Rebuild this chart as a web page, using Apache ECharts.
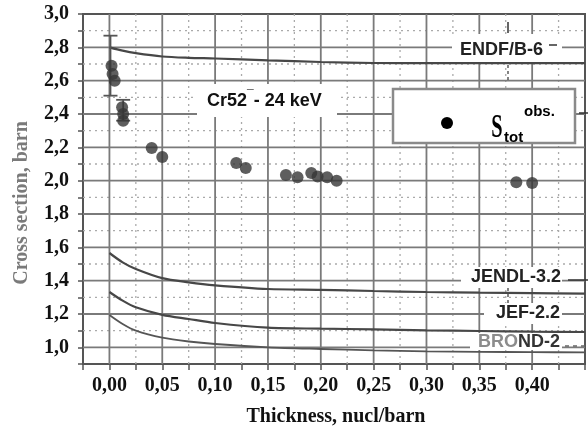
<!DOCTYPE html>
<html><head><meta charset="utf-8">
<script src="https://cdn.jsdelivr.net/npm/echarts@6/dist/echarts.min.js"></script>
<style>html,body{margin:0;padding:0;background:#fff}#c{width:588px;height:432px}</style>
</head><body><div id="c"></div>
<script>
// thickness samples for the evaluated-data curves (nucl/barn)
const curveX   = [0, 0.0125, 0.025, 0.05, 0.075, 0.1, 0.15, 0.2, 0.25, 0.3, 0.35, 0.4, 0.45];
const endfB6   = [2.80, 2.78, 2.765, 2.745, 2.737, 2.733, 2.722, 2.712, 2.706, 2.705, 2.705, 2.705, 2.705];
const jendl32  = [1.566, 1.51, 1.47, 1.415, 1.39, 1.372, 1.35, 1.345, 1.338, 1.332, 1.328, 1.325, 1.322];
const jef22    = [1.332, 1.28, 1.24, 1.195, 1.17, 1.146, 1.118, 1.112, 1.108, 1.102, 1.098, 1.094, 1.092];
const brond2   = [1.194, 1.14, 1.10, 1.058, 1.035, 1.02, 1.0, 0.99, 0.982, 0.976, 0.973, 0.971, 0.97];
// measured total cross sections
const obsX = [0.002, 0.003, 0.005, 0.012, 0.013, 0.013, 0.040, 0.050, 0.120, 0.129, 0.167, 0.178, 0.191, 0.197, 0.206, 0.215, 0.385, 0.400];
const obsY = [2.69, 2.64, 2.60, 2.44, 2.40, 2.36, 2.196, 2.142, 2.106, 2.076, 2.034, 2.02, 2.046, 2.025, 2.02, 2.0, 1.99, 1.986];
// error bars
const errX = [0.001, 0.013];
const errLow = [2.51, 2.36];
const errHigh = [2.87, 2.485];
// tick labels / major grid positions
const xTickValues = [0, 0.05, 0.10, 0.15, 0.20, 0.25, 0.30, 0.35, 0.40];
const xTickLabels = ['0,00','0,05','0,10','0,15','0,20','0,25','0,30','0,35','0,40'];
const yTickValues = [1.0, 1.2, 1.4, 1.6, 1.8, 2.0, 2.2, 2.4, 2.6, 2.8];
const yTickLabels = ['1,0','1,2','1,4','1,6','1,8','2,0','2,2','2,4','2,6','2,8'];
const yTopLabel = '3,0';
// minor (dotted) grid positions
const xMinorValues = [0.025, 0.075, 0.125, 0.175, 0.225, 0.275, 0.325, 0.375, 0.425];
const yMinorValues = [1.1, 1.3, 1.5, 1.7, 1.9, 2.1, 2.3, 2.5, 2.7, 2.9];
const X_MIN = -0.025, X_MAX = 0.45, Y_MIN = 0.9, Y_MAX = 3.0;

function lookup(vals, labels, v) {
  for (let i = 0; i < vals.length; i++) if (Math.abs(vals[i] - v) < 1e-6) return labels[i];
  return '';
}
const zip = (xs, ys) => xs.map((x, i) => [x, ys[i]]);

const serif = '"Liberation Serif", "Times New Roman", serif';
const sans = '"Liberation Sans", Arial, sans-serif';
const lineCol = '#474747';

const gridLine = (data, major) => ({type: 'line', data, showSymbol: false, silent: true, z: major ? 2 : 1,
  lineStyle: major ? {color: '#7a7a7a', width: 1.8, type: 'solid'} : {color: '#aaaaaa', width: 1.3, type: [2, 4]},
  emphasis: {disabled: true}});
const gridSeries = []
  .concat(xMinorValues.map(v => gridLine([[v, Y_MIN], [v, Y_MAX]], false)))
  .concat(yMinorValues.map(v => gridLine([[X_MIN, v], [X_MAX, v]], false)))
  .concat(xTickValues.map(v => gridLine([[v, Y_MIN], [v, Y_MAX]], true)))
  .concat(yTickValues.map(v => gridLine([[X_MIN, v], [X_MAX, v]], true)));

const chart = echarts.init(document.getElementById('c'), null, {renderer: 'canvas'});

const option = {
  animation: false,
  backgroundColor: '#fff',
  grid: {left: 83, top: 14, width: 539, height: 350, show: true, borderColor: '#555', borderWidth: 2, backgroundColor: 'transparent'},
  xAxis: {
    type: 'value', min: X_MIN, max: X_MAX, interval: 0.025,
    axisLine: {show: true, onZero: false, lineStyle: {color: '#555', width: 2}},
    axisTick: {show: true, length: 6, lineStyle: {color: '#555', width: 1.5}},
    axisLabel: {margin: 12, color: '#111', fontFamily: serif, fontWeight: 'bold', fontSize: 20,
      formatter: v => lookup(xTickValues, xTickLabels, v)},
    splitLine: {show: false}
  },
  yAxis: {
    type: 'value', min: Y_MIN, max: Y_MAX, interval: 0.1,
    axisLine: {show: true, onZero: false, lineStyle: {color: '#555', width: 2}},
    axisTick: {show: true, length: 5, lineStyle: {color: '#555', width: 1.5}},
    axisLabel: {margin: 14, color: '#111', fontFamily: serif, fontWeight: 'bold', fontSize: 20,
      formatter: v => Math.abs(v - Y_MAX) < 1e-6 ? yTopLabel : lookup(yTickValues, yTickLabels, v)},
    splitLine: {show: false}
  },
  series: gridSeries.concat([
    {name: 'ENDF/B-6', type: 'line', data: zip(curveX, endfB6), smooth: 0.3, showSymbol: false,
      lineStyle: {color: lineCol, width: 2.2}, z: 3},
    {name: 'JENDL-3.2', type: 'line', data: zip(curveX, jendl32), smooth: 0.3, showSymbol: false,
      lineStyle: {color: lineCol, width: 2.2}, z: 3},
    {name: 'JEF-2.2', type: 'line', data: zip(curveX, jef22), smooth: 0.3, showSymbol: false,
      lineStyle: {color: lineCol, width: 2.2}, z: 3},
    {name: 'BROND-2', type: 'line', data: zip(curveX, brond2), smooth: 0.3, showSymbol: false,
      lineStyle: {color: '#555', width: 1.8}, z: 3},
    {name: 'err', type: 'custom', z: 4,
      data: errX.map((x, i) => [x, errLow[i], errHigh[i]]),
      renderItem: (params, api) => {
        const x = api.value(0), lo = api.value(1), hi = api.value(2);
        const a = api.coord([x, hi]), b = api.coord([x, lo]);
        const w = 7, st = {stroke: '#555', lineWidth: 1.8};
        return {type: 'group', children: [
          {type: 'line', shape: {x1: a[0], y1: a[1], x2: b[0], y2: b[1]}, style: st},
          {type: 'line', shape: {x1: a[0] - w, y1: a[1], x2: a[0] + w, y2: a[1]}, style: st},
          {type: 'line', shape: {x1: b[0] - w, y1: b[1], x2: b[0] + w, y2: b[1]}, style: st}
        ]};
      }},
    {name: 'obs', type: 'scatter', data: zip(obsX, obsY), symbolSize: 12,
      itemStyle: {color: '#363636'}, z: 5}
  ]),
  graphic: [
    // axis titles
    {type: 'text', x: 22, y: 203, rotation: Math.PI / 2, z: 10,
      style: {text: 'Cross section, barn', font: 'bold 20px ' + serif, fill: '#7a7a7a', align: 'center', verticalAlign: 'middle'}},
    {type: 'text', x: 336, y: 417, z: 10,
      style: {text: 'Thickness, nucl/barn', font: 'bold 20px ' + serif, fill: '#111', align: 'center', verticalAlign: 'middle'}},
    // ENDF label
    {type: 'rect', shape: {x: 452, y: 34, width: 110, height: 28}, style: {fill: '#fff'}, z: 20},
    {type: 'text', x: 460, y: 50, z: 21,
      style: {text: 'ENDF/B-6', font: 'bold 18px ' + sans, fill: '#222', align: 'left', verticalAlign: 'middle'}},
    {type: 'line', shape: {x1: 549, y1: 45, x2: 557, y2: 45}, style: {stroke: '#333', lineWidth: 1.5}, z: 21},
    {type: 'line', shape: {x1: 508, y1: 22, x2: 508, y2: 33}, style: {stroke: '#333', lineWidth: 1.5}, z: 21},
    {type: 'line', shape: {x1: 508, y1: 65, x2: 508, y2: 80}, style: {stroke: '#333', lineWidth: 1.2, lineDash: [3, 3]}, z: 21},
    // Cr52 label
    {type: 'rect', shape: {x: 197, y: 84, width: 140, height: 33}, style: {fill: '#fff'}, z: 20},
    {type: 'text', x: 207, y: 101, z: 21,
      style: {text: '{a|Cr52}{s|¯}{a|- 24 keV}', align: 'left', verticalAlign: 'middle',
        rich: {a: {font: 'bold 18px ' + sans, fill: '#111'}, s: {font: 'bold 12px ' + sans, fill: '#111', padding: [0, 0, 10, 0]}}}},
    // legend box
    {type: 'rect', shape: {x: 393, y: 89, width: 182, height: 54}, style: {fill: '#fff', stroke: '#8a8a8a', lineWidth: 2.5}, z: 20},
    {type: 'circle', shape: {cx: 447, cy: 123, r: 6}, style: {fill: '#000'}, z: 21},
    {type: 'text', x: 497, y: 128, scaleX: 0.6, z: 21,
      style: {text: 'S', font: 'bold 34px ' + serif, fill: '#000', align: 'center', verticalAlign: 'middle'}},
    {type: 'text', x: 524, y: 112, z: 21,
      style: {text: 'obs.', font: 'bold 15px ' + sans, fill: '#000', align: 'left', verticalAlign: 'middle'}},
    {type: 'text', x: 504, y: 138, z: 21,
      style: {text: 'tot', font: 'bold 15px ' + sans, fill: '#000', align: 'left', verticalAlign: 'middle'}},
    {type: 'line', shape: {x1: 579, y1: 113, x2: 588, y2: 113}, style: {stroke: '#333', lineWidth: 1.5}, z: 21},
    // JENDL label
    {type: 'rect', shape: {x: 461, y: 267, width: 101, height: 21}, style: {fill: '#fff'}, z: 20},
    {type: 'text', x: 561, y: 277, z: 21,
      style: {text: 'JENDL-3.2', font: 'bold 18px ' + sans, fill: '#222', align: 'right', verticalAlign: 'middle'}},
    {type: 'line', shape: {x1: 568, y1: 280, x2: 588, y2: 280}, style: {stroke: '#333', lineWidth: 1.5}, z: 21},
    {type: 'line', shape: {x1: 508, y1: 288, x2: 508, y2: 303}, style: {stroke: '#333', lineWidth: 1.2, lineDash: [3, 3]}, z: 21},
    // JEF label
    {type: 'rect', shape: {x: 484, y: 303, width: 78, height: 21}, style: {fill: '#fff'}, z: 20},
    {type: 'text', x: 560, y: 313, z: 21,
      style: {text: 'JEF-2.2', font: 'bold 18px ' + sans, fill: '#222', align: 'right', verticalAlign: 'middle'}},
    // BROND label
    {type: 'rect', shape: {x: 470, y: 333, width: 92, height: 17}, style: {fill: '#fff'}, z: 20},
    {type: 'text', x: 560, y: 342, z: 21,
      style: {text: '{g|BRO}{d|ND-2}', align: 'right', verticalAlign: 'middle',
        rich: {g: {font: 'bold 18px ' + sans, fill: '#8c8c8c'}, d: {font: 'bold 18px ' + sans, fill: '#333'}}}},
    {type: 'line', shape: {x1: 565, y1: 346, x2: 588, y2: 346}, style: {stroke: '#666', lineWidth: 1.5, lineDash: [4, 4]}, z: 21}
  ]
};
chart.setOption(option);
</script>
</body></html>
